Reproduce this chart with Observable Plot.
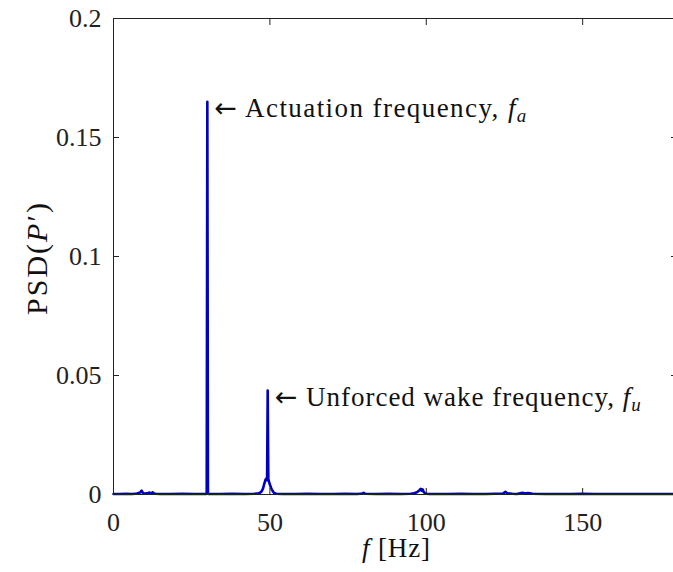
<!DOCTYPE html>
<html>
<head>
<meta charset="utf-8">
<script src="https://cdn.jsdelivr.net/npm/d3@7"></script>
<script src="https://cdn.jsdelivr.net/npm/@observablehq/plot@0.6"></script>
<style>
  html, body { margin: 0; padding: 0; background: #fff; overflow: hidden; }
  svg { max-width: none !important; }
</style>
</head>
<body>
<div id="chart"></div>
<script>
// Frequency axis [Hz]
const freq = [
  0, 2, 4, 6, 7.5, 8.5, 9, 9.3, 9.6, 10, 11, 11.5, 12, 12.5, 13, 13.5, 15, 18, 22, 26, 29.5, 29.8, 30, 30.2, 30.5,
  34, 38, 42, 45, 46.5, 47.3, 47.8, 48.2, 48.6, 48.9, 49.1, 49.3, 49.5, 49.7, 50, 50.3, 50.6, 51, 51.4, 52, 54,
  58, 62, 66, 70, 74, 78, 79.5, 80, 80.5, 84, 88, 92, 95, 96, 96.8, 97.3, 97.8, 98.2, 98.5, 98.8, 99.2, 99.6, 100.2, 101, 103,
  107, 111, 115, 119, 122, 124.5, 125.3, 126, 127.5, 129, 130, 130.8, 131.5, 132.5, 134, 138, 142, 146, 150, 154, 158, 162, 166, 170, 174, 178, 180
];
// PSD(P') values
const psd = [
  0.0002, 0.0002, 0.0003, 0.0002, 0.0004, 0.0008, 0.0016, 0.0009, 0.0005, 0.0004, 0.0006, 0.0008, 0.0005, 0.0009, 0.0004, 0.0003, 0.0002, 0.0002, 0.0003, 0.0002, 0.0002, 0.0003, 0.165, 0.0003, 0.0002,
  0.0002, 0.0003, 0.0002, 0.0003, 0.0005, 0.0012, 0.0025, 0.0045, 0.0062, 0.0068, 0.0060, 0.0437, 0.0065, 0.0055, 0.0042, 0.0030, 0.0022, 0.0012, 0.0006, 0.0003, 0.0002,
  0.0002, 0.0003, 0.0002, 0.0002, 0.0003, 0.0002, 0.0004, 0.0007, 0.0003, 0.0002, 0.0003, 0.0002, 0.0003, 0.0005, 0.0008, 0.0012, 0.0018, 0.0024, 0.0016, 0.0022, 0.0010, 0.0005, 0.0003, 0.0002, 0.0002,
  0.0002, 0.0003, 0.0002, 0.0002, 0.0003, 0.0004, 0.0011, 0.0005, 0.0003, 0.0002, 0.0005, 0.0007, 0.0004, 0.0006, 0.0003, 0.0002, 0.0002, 0.0002, 0.0003, 0.0002, 0.0002, 0.0002, 0.0002, 0.0002, 0.0002, 0.0002, 0.0002
];
const xTicks = [0, 50, 100, 150];
const yTicks = [0, 0.05, 0.1, 0.15, 0.2];
const yTickLabels = ["0", "0.05", "0.1", "0.15", "0.2"];
const annFreq = [30, 49.3];
const annPsd = [0.165, 0.0437];
const annText = ["Actuation frequency, ", "Unforced wake frequency, "];
const annSub = ["a", "u"];

const data = freq.map((f, i) => ({f, p: psd[i]}));
const ann = annFreq.map((f, i) => ({f, p: annPsd[i], t: annText[i], s: annSub[i]}));

const FONT = "'Liberation Serif', 'DejaVu Serif', serif";
const INK = "#222";

const plot = Plot.plot({
  width: 680,
  height: 572,
  marginLeft: 113,
  marginRight: 4,
  marginTop: 18,
  marginBottom: 78,
  style: {fontFamily: FONT, fontSize: "26px", color: INK, background: "#fff", overflow: "hidden", maxWidth: "none"},
  x: {domain: [0, 180], label: null},
  y: {domain: [0, 0.2], label: null},
  marks: [
    Plot.line(data, {x: "f", y: "p", stroke: "#0000c0", strokeWidth: 2.6}),
    // inward ticks on all four sides
    Plot.axisX({anchor: "bottom", ticks: xTicks, tickSize: -6, tickFormat: () => "", label: null, stroke: INK}),
    Plot.axisX({anchor: "top", ticks: xTicks, tickSize: -6, tickFormat: () => "", label: null, stroke: INK}),
    Plot.axisY({anchor: "left", ticks: yTicks, tickSize: -6, tickFormat: () => "", label: null, stroke: INK}),
    Plot.axisY({anchor: "right", ticks: yTicks, tickSize: -6, tickFormat: () => "", label: null, stroke: INK}),
    // tick labels
    Plot.axisX({anchor: "bottom", ticks: xTicks, tickSize: 0, tickPadding: 18, label: null, fill: INK}),
    Plot.axisY({anchor: "left", ticks: yTicks, tickSize: 0, tickPadding: 12, label: null, fill: INK,
      tickFormat: (d) => yTickLabels[yTicks.indexOf(d)]}),
    Plot.frame({stroke: INK, strokeWidth: 1}),
    Plot.text(ann, {x: "f", y: "p", text: "t", textAnchor: "start", lineAnchor: "middle", dx: 7, dy: 7,
      fontSize: 27, fill: "#111"})
  ]
});

const svg = d3.select(plot);
const annLen = [312, 366];
// rebuild annotations: arrow, text, italic f with subscript
svg.selectAll("text").each(function() {
  const el = d3.select(this);
  const txt = el.text();
  const i = annText.indexOf(txt);
  if (i >= 0) {
    el.text(null);
    el.append("tspan").attr("font-family", "'DejaVu Sans', sans-serif").attr("font-size", "27px").text("\u2190");
    el.append("tspan").text(" " + txt);
    el.append("tspan").attr("font-style", "italic").text("f");
    el.append("tspan").attr("font-style", "italic").attr("font-size", "19px").attr("dy", "5").text(annSub[i]);
    el.attr("textLength", annLen[i]).attr("lengthAdjust", "spacing");
  }
});

// axis titles
const xl = svg.append("text")
  .attr("x", 396).attr("y", 557)
  .attr("text-anchor", "middle")
  .attr("font-size", "27px").attr("fill", "#111")
  .attr("textLength", 68).attr("lengthAdjust", "spacing");
xl.append("tspan").attr("font-style", "italic").text("f");
xl.append("tspan").text(" [Hz]");

const yl = svg.append("text")
  .attr("transform", "translate(47,259) rotate(-90)")
  .attr("text-anchor", "middle")
  .attr("font-size", "30px").attr("fill", "#111")
  .attr("textLength", 112).attr("lengthAdjust", "spacing");
yl.append("tspan").text("PSD(");
yl.append("tspan").attr("font-style", "italic").text("P");
yl.append("tspan").text("\u2032)");

document.getElementById("chart").appendChild(plot);
</script>
</body>
</html>
